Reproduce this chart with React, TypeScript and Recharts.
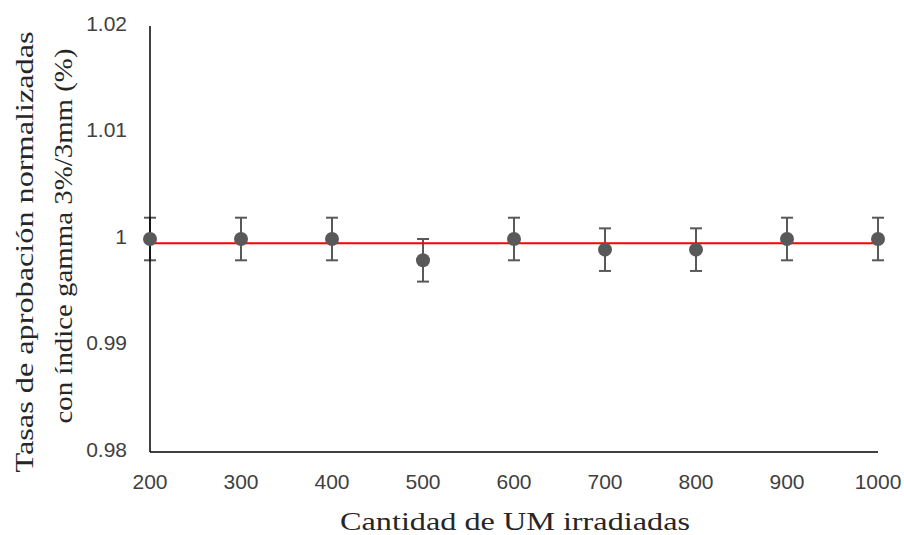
import { ComposedChart, Scatter, Line, XAxis, YAxis, ErrorBar } from 'recharts';

const umValues = [200, 300, 400, 500, 600, 700, 800, 900, 1000];
const passRates = [1, 1, 1, 0.998, 1, 0.999, 0.999, 1, 1];
const passErrors = [0.002, 0.002, 0.002, 0.002, 0.002, 0.002, 0.002, 0.002, 0.002];
const trendValue = 0.9996;
const xTicks = [200, 300, 400, 500, 600, 700, 800, 900, 1000];
const yTicks = [0.98, 0.99, 1, 1.01, 1.02];

const data = umValues.map((um, i) => ({
  um,
  value: passRates[i],
  err: passErrors[i],
  trend: trendValue,
}));

const GRAY = '#595959';

const Dot = (props: any) => {
  const { cx, cy } = props;
  if (cx == null || cy == null) return null;
  return <circle cx={cx} cy={cy} r={7} fill={GRAY} />;
};

const YTick = (props: any) => {
  const { x, y, payload } = props;
  return (
    <text x={x} y={y - 3} textAnchor="end" dominantBaseline="central" fontSize={21}
      fontFamily="Liberation Sans, Arial, sans-serif" fill="#404040">
      {String(payload.value)}
    </text>
  );
};

const XTick = (props: any) => {
  const { x, y, payload } = props;
  return (
    <text x={x} y={y} textAnchor="middle" dominantBaseline="central" fontSize={21}
      fontFamily="Liberation Sans, Arial, sans-serif" fill="#404040">
      {String(payload.value)}
    </text>
  );
};

export default function App() {
  return (
    <div style={{ position: 'absolute', left: 0, top: 0, width: 904, height: 535, background: '#fff' }}>
      <ComposedChart width={904} height={535} data={data}
        margin={{ top: 26, right: 26, bottom: 0, left: 0 }}>
        <XAxis dataKey="um" type="number" domain={[200, 1000]} ticks={xTicks}
          height={83}
          axisLine={{ stroke: '#000', strokeWidth: 1.5 }} tickLine={false}
          tickSize={0} tickMargin={29} tick={<XTick />} />
        <YAxis type="number" domain={[0.98, 1.02]} ticks={yTicks} width={150}
          axisLine={{ stroke: '#000', strokeWidth: 1.5 }} tickLine={false}
          tickSize={0} tickMargin={23} tick={<YTick />} />
        <Scatter dataKey="value" fill={GRAY} shape={<Dot />} isAnimationActive={false}>
          <ErrorBar dataKey="err" direction="y" width={6} stroke={GRAY} strokeWidth={2} />
        </Scatter>
        <Line dataKey="trend" stroke="#FF0000" strokeWidth={2} dot={false}
          activeDot={false} isAnimationActive={false} />
        <text transform="translate(24,252) rotate(-90)" textAnchor="middle" dominantBaseline="central"
          fontSize={26} fontFamily="Liberation Serif, Times New Roman, serif" fill="#262626"
          textLength={441} lengthAdjust="spacingAndGlyphs">
          Tasas de aprobación normalizadas
        </text>
        <text transform="translate(63,236) rotate(-90)" textAnchor="middle" dominantBaseline="central"
          fontSize={26} fontFamily="Liberation Serif, Times New Roman, serif" fill="#262626"
          textLength={375} lengthAdjust="spacingAndGlyphs">
          con índice gamma 3%/3mm (%)
        </text>
        <text x={515} y={530} textAnchor="middle"
          fontSize={26} fontFamily="Liberation Serif, Times New Roman, serif" fill="#262626"
          textLength={350} lengthAdjust="spacingAndGlyphs">
          Cantidad de UM irradiadas
        </text>
      </ComposedChart>
    </div>
  );
}
